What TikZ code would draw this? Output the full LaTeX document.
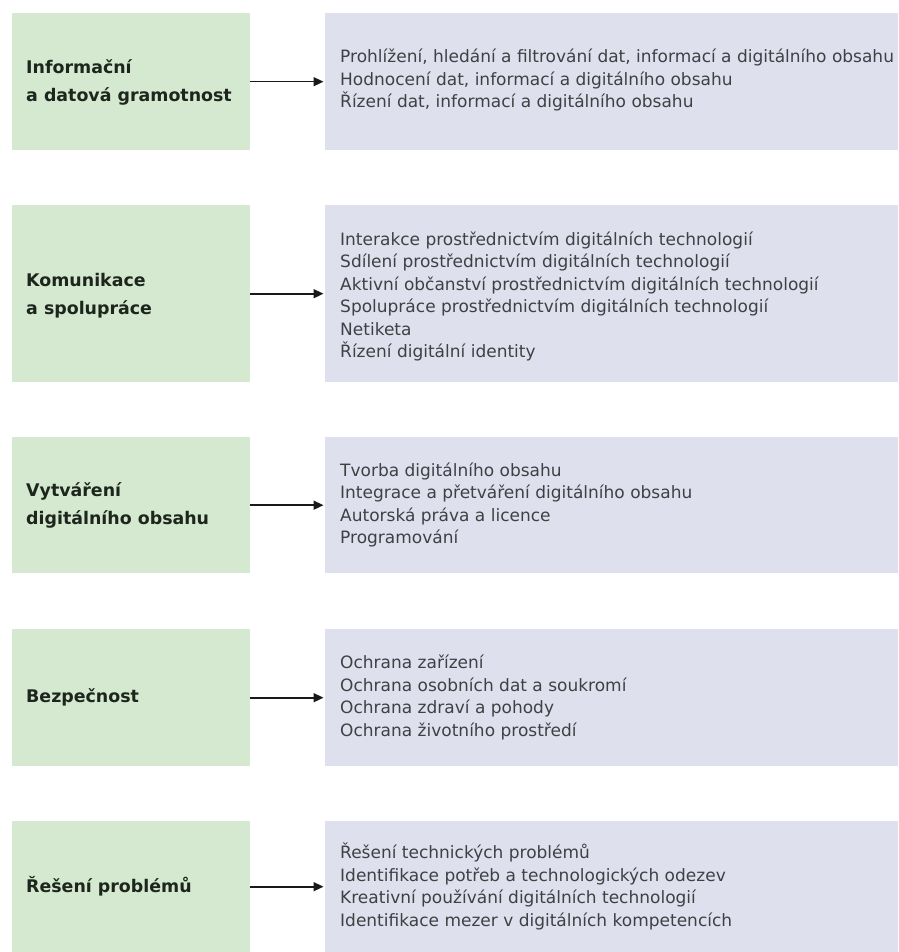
\documentclass[tikz,border=0pt]{standalone}
\usepackage{fontspec}
\setmainfont{DejaVu Sans}
\usetikzlibrary{arrows.meta}
\definecolor{catfill}{RGB}{213,232,208}
\definecolor{itemfill}{RGB}{223,224,237}
\definecolor{cattext}{RGB}{28,38,28}
\definecolor{itemtext}{RGB}{64,64,68}
\tikzset{
  catbox/.style={draw=none, fill=catfill, minimum width=238pt, inner sep=0pt, anchor=north west},
  itembox/.style={draw=none, fill=itemfill, minimum width=573pt, inner sep=0pt, anchor=north west},
  cattitle/.style={anchor=west, align=left, inner sep=0pt, text=cattext,
    font=\fontsize{17.4}{28}\selectfont\bfseries},
  itemlist/.style={anchor=west, align=left, inner sep=0pt, text=itemtext,
    font=\fontsize{17}{22.4}\selectfont},
  link/.style={draw=black!90, line width=1.6pt, -{Triangle[length=10pt,width=9pt]}, shorten >=1.5pt}
}
\begin{document}
\begin{tikzpicture}[x=1pt,y=-1pt]
\useasboundingbox (0,0) rectangle (898,952);
\fill[white] (0,0) rectangle (898,952);

% row 1
\node[catbox, minimum height=137pt] (c1) at (12,13) {};
\node[itembox, minimum height=137pt] (i1) at (325,13) {};
\node[cattitle] (t1) at (26,82) {Informační\\a datová gramotnost};
\node[itemlist] (l1) at (340,80) {Prohlížení, hledání a filtrování dat, informací a digitálního obsahu\\Hodnocení dat, informací a digitálního obsahu\\Řízení dat, informací a digitálního obsahu};
\draw[link] (c1.east) -- (i1.west);

% row 2
\node[catbox, minimum height=177pt] (c2) at (12,205) {};
\node[itembox, minimum height=177pt] (i2) at (325,205) {};
\node[cattitle] (t2) at (26,296) {Komunikace\\a spolupráce};
\node[itemlist] (l2) at (340,296.5) {Interakce prostřednictvím digitálních technologií\\Sdílení prostřednictvím digitálních technologií\\Aktivní občanství prostřednictvím digitálních technologií\\Spolupráce prostřednictvím digitálních technologií\\Netiketa\\Řízení digitální identity};
\draw[link] (c2.east) -- (i2.west);

% row 3
\node[catbox, minimum height=136pt] (c3) at (12,437) {};
\node[itembox, minimum height=136pt] (i3) at (325,437) {};
\node[cattitle] (t3) at (26,505) {Vytváření\\digitálního obsahu};
\node[itemlist] (l3) at (340,505) {Tvorba digitálního obsahu\\Integrace a přetváření digitálního obsahu\\Autorská práva a licence\\Programování};
\draw[link] (c3.east) -- (i3.west);

% row 4
\node[catbox, minimum height=137pt] (c4) at (12,629) {};
\node[itembox, minimum height=137pt] (i4) at (325,629) {};
\node[cattitle] (t4) at (26,697.5) {Bezpečnost};
\node[itemlist] (l4) at (340,697.5) {Ochrana zařízení\\Ochrana osobních dat a soukromí\\Ochrana zdraví a pohody\\Ochrana životního prostředí};
\draw[link] (c4.east) -- (i4.west);

% row 5
\node[catbox, minimum height=131pt] (c5) at (12,821) {};
\node[itembox, minimum height=131pt] (i5) at (325,821) {};
\node[cattitle] (t5) at (26,886.5) {Řešení problémů};
\node[itemlist] (l5) at (340,886.5) {Řešení technických problémů\\Identifikace potřeb a technologických odezev\\Kreativní používání digitálních technologií\\Identifikace mezer v digitálních kompetencích};
\draw[link] (c5.east) -- (i5.west);
\end{tikzpicture}
\end{document}
